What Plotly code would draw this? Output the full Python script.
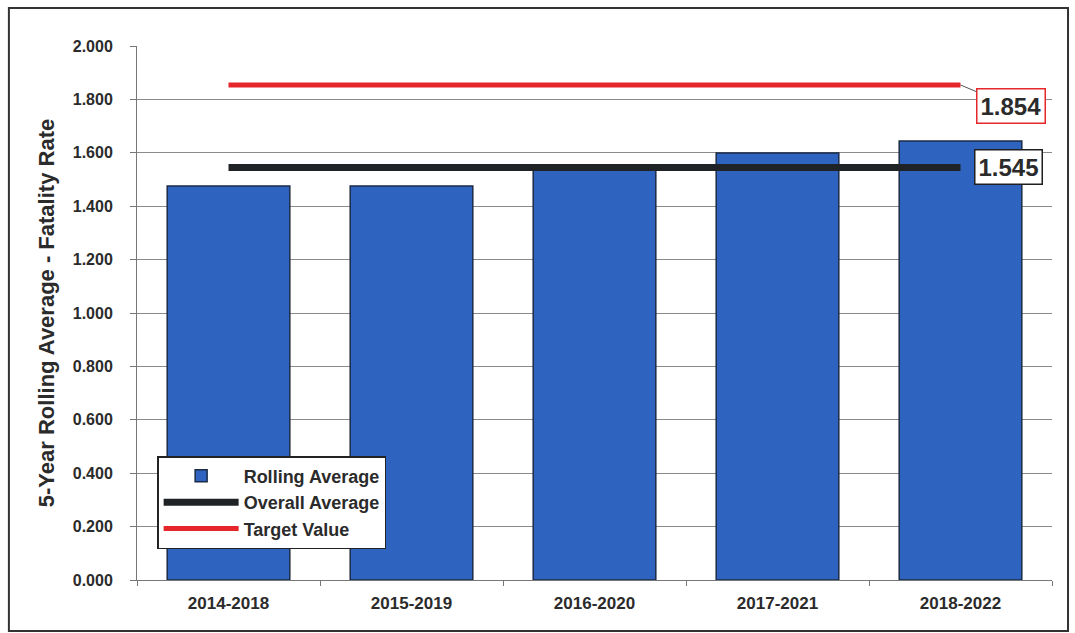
import plotly.graph_objects as go

periods = ["2014-2018", "2015-2019", "2016-2020", "2017-2021", "2018-2022"]
rolling_average = [1.476, 1.476, 1.536, 1.599, 1.644]
overall_average = [1.545, 1.545, 1.545, 1.545, 1.545]
target_value = [1.854, 1.854, 1.854, 1.854, 1.854]
y_ticks = [0.0, 0.2, 0.4, 0.6, 0.8, 1.0, 1.2, 1.4, 1.6, 1.8, 2.0]

FONT = "Liberation Sans, Arial, sans-serif"
TEXT = "#2b2b2b"

fig = go.Figure()

fig.add_trace(go.Bar(
    x=periods,
    y=rolling_average,
    name="Rolling Average",
    marker=dict(color="#2f63c0", line=dict(color="#1c2b45", width=1.5)),
))
fig.add_trace(go.Scatter(
    x=periods,
    y=overall_average,
    name="Overall Average",
    mode="lines",
    line=dict(color="#1f2326", width=7),
))
fig.add_trace(go.Scatter(
    x=periods,
    y=target_value,
    name="Target Value",
    mode="lines",
    line=dict(color="#e5262b", width=5),
))

# value boxes at the right end of each line
fig.add_annotation(
    x=periods[-1], y=target_value[-1], xref="x", yref="y",
    text="%.3f" % target_value[-1],
    showarrow=True, arrowhead=0, arrowwidth=1, arrowcolor="#555",
    ax=50, ay=21,
    font=dict(family=FONT, size=24, color=TEXT, weight="bold"),
    bgcolor="white", bordercolor="#e5262b", borderwidth=1.5, borderpad=3,
)
fig.add_annotation(
    x=periods[-1], y=overall_average[-1], xref="x", yref="y",
    text="%.3f" % overall_average[-1],
    showarrow=True, arrowhead=0, arrowwidth=1, arrowcolor="rgba(0,0,0,0)",
    ax=48, ay=0,
    font=dict(family=FONT, size=24, color=TEXT, weight="bold"),
    bgcolor="white", bordercolor="#1f1f1f", borderwidth=1.5, borderpad=3,
)

# outer chart frame
fig.add_shape(
    type="rect", xref="paper", yref="paper",
    x0=-0.14, x1=1.0175, y0=-0.0955, y1=1.071,
    line=dict(color="#333", width=2), fillcolor="rgba(0,0,0,0)",
)

fig.update_layout(
    width=1075,
    height=633,
    margin=dict(l=137, r=23, t=46, b=53),
    paper_bgcolor="white",
    plot_bgcolor="white",
    bargap=0.33,
    showlegend=True,
    font=dict(family=FONT, color=TEXT),
    legend=dict(
        x=0.022, y=0.232, xanchor="left", yanchor="top",
        bgcolor="white", bordercolor="#222", borderwidth=1.5,
        font=dict(family=FONT, size=18, color=TEXT, weight="bold"),
        tracegroupgap=4,
        itemwidth=75,
    ),
)

fig.update_xaxes(
    showline=True, linecolor="#777", linewidth=1,
    ticks="outside", tickson="boundaries", ticklen=5, tickcolor="#777",
    tickfont=dict(family=FONT, size=17, color=TEXT, weight="bold"),
    ticklabelstandoff=8,
)
fig.update_yaxes(
    range=[0, 2.0],
    tickvals=y_ticks,
    tickformat=".3f",
    tickfont=dict(family=FONT, size=16, color=TEXT, weight="bold"),
    showline=True, linecolor="#777", linewidth=1,
    ticks="outside", ticklen=6, tickcolor="#777",
    ticklabelstandoff=14,
    showgrid=True, gridcolor="#8a8a8a", gridwidth=1,
    zeroline=False,
    title=dict(text="5-Year Rolling Average - Fatality Rate",
               font=dict(family=FONT, size=22, color=TEXT, weight="bold"),
               standoff=12),
)

fig.write_html("out.html", config={"displayModeBar": False},
               post_script="document.body.style.margin='0';")
